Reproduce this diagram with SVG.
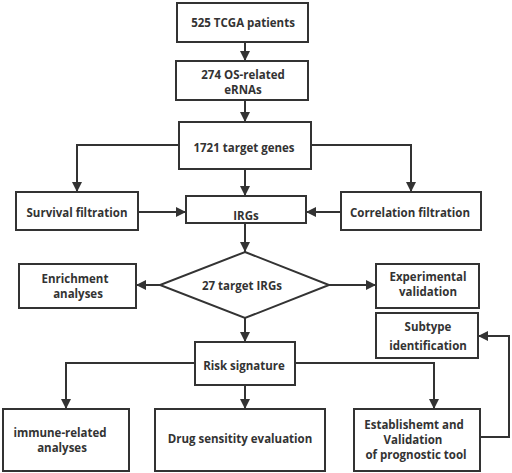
<svg xmlns="http://www.w3.org/2000/svg" width="512" height="473" viewBox="0 0 512 473">
<defs>
<style>
.box{fill:#fff;stroke:#333;stroke-width:2}
.ln{fill:none;stroke:#333;stroke-width:2}
.t{font-family:"Open Sans","Noto Sans","DejaVu Sans",sans-serif;font-weight:bold;font-size:11.5px;fill:#333;text-anchor:middle}
</style>
<marker id="ah" viewBox="0 0 10 10" refX="10" refY="5" markerWidth="11" markerHeight="10" markerUnits="userSpaceOnUse" orient="auto">
<path d="M0,0 L10,5 L0,10 Z" fill="#333"/>
</marker>
</defs>
<rect width="512" height="473" fill="#fff"/>
<g id="connectors">
<line class="ln" x1="245" y1="42" x2="245" y2="61" marker-end="url(#ah)"/>
<line class="ln" x1="245" y1="100" x2="245" y2="122" marker-end="url(#ah)"/>
<polyline class="ln" points="179,145 77,145 77,192" marker-end="url(#ah)"/>
<polyline class="ln" points="311,145 411,145 411,192" marker-end="url(#ah)"/>
<line class="ln" x1="245" y1="169" x2="245" y2="196" marker-end="url(#ah)"/>
<line class="ln" x1="138" y1="212" x2="186" y2="212" marker-end="url(#ah)"/>
<line class="ln" x1="341" y1="212" x2="306" y2="212" marker-end="url(#ah)"/>
<line class="ln" x1="245" y1="223" x2="245" y2="252" marker-end="url(#ah)"/>
<line class="ln" x1="160" y1="285" x2="136" y2="285" marker-end="url(#ah)"/>
<line class="ln" x1="329" y1="285" x2="376" y2="285" marker-end="url(#ah)"/>
<line class="ln" x1="245" y1="318" x2="245" y2="342" marker-end="url(#ah)"/>
<polyline class="ln" points="195,363 66,363 66,409" marker-end="url(#ah)"/>
<polyline class="ln" points="295,363 434,363 434,409" marker-end="url(#ah)"/>
<line class="ln" x1="245" y1="385" x2="245" y2="409" marker-end="url(#ah)"/>
<polyline class="ln" points="480,437 509,437 509,336 478,336" marker-end="url(#ah)"/>
</g>
<g id="n1"><rect class="box" x="177" y="3" width="131" height="39"/><text class="t" x="243" y="27">525 TCGA patients</text></g>
<g id="n2"><rect class="box" x="176" y="61" width="132" height="39"/><text class="t" x="243" y="79">274 OS-related</text><text class="t" x="243" y="94">eRNAs</text></g>
<g id="n3"><rect class="box" x="179" y="122" width="132" height="47"/><text class="t" x="244" y="152">1721 target genes</text></g>
<g id="n4"><rect class="box" x="16" y="192" width="122" height="38"/><text class="t" x="77" y="217">Survival filtration</text></g>
<g id="n5"><rect class="box" x="186" y="196" width="120" height="27"/><text class="t" x="246" y="220">IRGs</text></g>
<g id="n6"><rect class="box" x="341" y="192" width="140" height="38"/><text class="t" x="410" y="217">Correlation filtration</text></g>
<g id="n7"><polygon class="box" points="245,252 329,285 245,318 160,285"/><text class="t" x="242" y="290">27 target IRGs</text></g>
<g id="n8"><rect class="box" x="19" y="264" width="117" height="44"/><text class="t" x="75" y="283">Enrichment</text><text class="t" x="78" y="298">analyses</text></g>
<g id="n9"><rect class="box" x="376" y="264" width="103" height="44"/><text class="t" x="428" y="281">Experimental</text><text class="t" x="428" y="296">validation</text></g>
<g id="n10"><rect class="box" x="376" y="313" width="102" height="45"/><text class="t" x="428" y="331">Subtype</text><text class="t" x="428" y="350">identification</text></g>
<g id="n11"><rect class="box" x="195" y="342" width="100" height="43"/><text class="t" x="244" y="370">Risk signature</text></g>
<g id="n12"><rect class="box" x="3" y="409" width="126" height="62"/><text class="t" x="60" y="437">immune-related</text><text class="t" x="62" y="452">analyses</text></g>
<g id="n13"><rect class="box" x="155" y="409" width="170" height="62"/><text class="t" x="240" y="443">Drug sensitity evaluation</text></g>
<g id="n14"><rect class="box" x="354" y="409" width="126" height="62"/><text class="t" x="414" y="429">Establishemt and</text><text class="t" x="413" y="444">Validation</text><text class="t" x="416" y="459">of prognostic tool</text></g>
</svg>
